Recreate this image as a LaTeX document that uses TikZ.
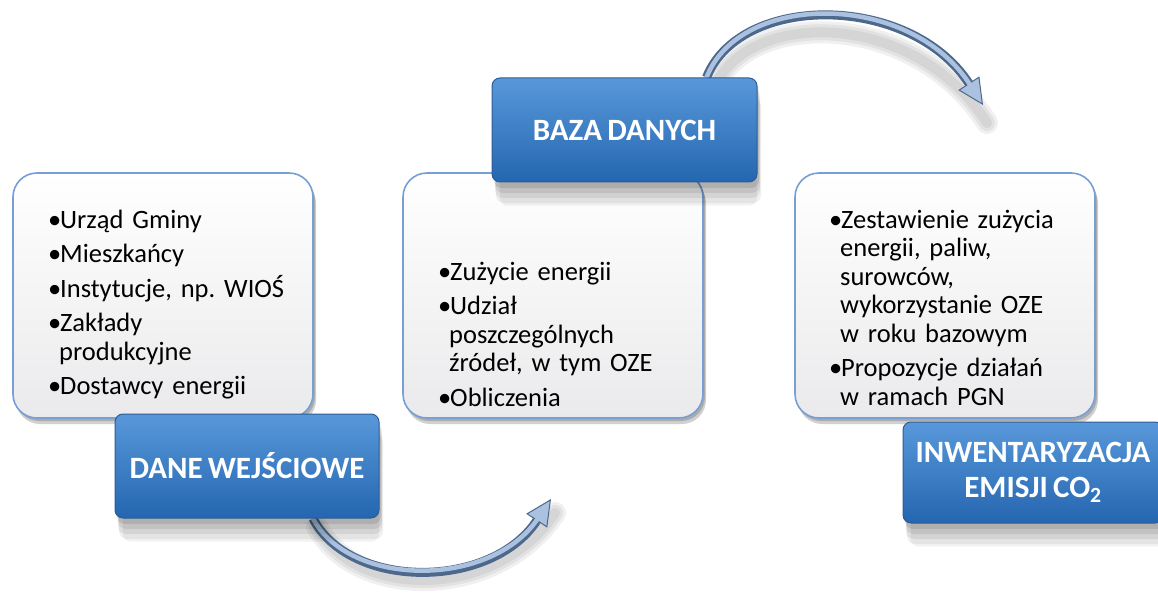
\documentclass[tikz,border=0pt]{standalone}
\usepackage{fontspec}
\setmainfont{Carlito}[WordSpace=0.75]
\usetikzlibrary{shadows,arrows.meta,calc}
\definecolor{bluetop}{RGB}{88,152,218}
\definecolor{bluebot}{RGB}{36,102,176}
\definecolor{blueedge}{RGB}{46,92,150}
\definecolor{wedge}{RGB}{118,160,212}
\definecolor{wbot}{RGB}{234,234,236}
\definecolor{arrdark}{RGB}{78,104,140}
\definecolor{arrlight}{RGB}{170,194,224}
\pgfdeclarelayer{bg}
\pgfsetlayers{bg,main}
\newcommand{\bl}{\makebox[12pt][l]{•}}
\newcommand{\ind}{\hspace*{11pt}}
\begin{document}
\begin{tikzpicture}[x=1pt,y=-1pt,
  wbox/.style={draw=wedge, line width=1.6pt, rounded corners=24pt,
    top color=white, bottom color=wbot, inner sep=0pt,
    minimum width=300pt, minimum height=245pt,
    general shadow={fill=black, opacity=0.18, shadow xshift=3pt, shadow yshift=-6pt},
    general shadow={fill=black, opacity=0.18, shadow xshift=2pt, shadow yshift=-3pt}},
  bbox/.style={draw=blueedge, line width=1pt, rounded corners=8pt,
    top color=bluetop, bottom color=bluebot, inner sep=0pt,
    text=white, font=\bfseries\fontsize{31}{35}\selectfont, align=center,
    general shadow={fill=black, opacity=0.05, shadow xshift=4pt, shadow yshift=-26pt, shadow scale=0.97},
    general shadow={fill=black, opacity=0.06, shadow xshift=4pt, shadow yshift=-21pt},
    general shadow={fill=black, opacity=0.07, shadow xshift=3pt, shadow yshift=-16pt},
    general shadow={fill=black, opacity=0.08, shadow xshift=3pt, shadow yshift=-11pt},
    general shadow={fill=black, opacity=0.10, shadow xshift=2pt, shadow yshift=-6pt}},
  txt/.style={anchor=base west, inner sep=0pt, text width=290pt, align=left,
    font=\frenchspacing\fontsize{26.5}{28.5}\selectfont, text=black},
  arrshadow/.style={draw=black, opacity=0.06, line width=#1, line cap=round},
  arrbody/.style={draw=arrdark, line width=9pt,
    -{Triangle[length=26pt,width=25pt,fill=arrlight,color=arrdark,line width=1pt]}},
  arrhi/.style={draw=arrlight, line width=4.5pt, shorten >=24pt}
]
\useasboundingbox (0,0) rectangle (1158,596);
\clip (0,0) rectangle (1158,596);

% white boxes and blue boxes
\node[wbox] (in1) at (163,295.5) {};
\node[bbox, minimum width=264pt, minimum height=104pt] (dane) at (247,466) {DANE WEJŚCIOWE};

\node[wbox] (in2) at (553,295.5) {};
\node[bbox, minimum width=265pt, minimum height=104pt] (baza) at (624.5,130) {BAZA DANYCH};

\node[wbox] (in3) at (945,295.5) {};
\node[bbox, minimum width=260pt, minimum height=101pt] (inw) at (1033,472.5) {INWENTARYZACJA\\EMISJI CO\textsubscript{2}};

% texts
\node[txt] (t1) at (48,228) {\bl Urząd Gminy\\[6pt]\bl Mieszkańcy\\[6pt]\bl Instytucje, np. WIOŚ\\[6pt]\bl Zakłady\\\ind produkcyjne\\[6pt]\bl Dostawcy energii};
\node[txt] (t2) at (438,280) {\bl Zużycie energii\\[6pt]\bl Udział\\\ind poszczególnych\\\ind źródeł, w tym OZE\\[6pt]\bl Obliczenia};
\node[txt] (t3) at (829,228) {\bl Zestawienie zużycia\\\ind energii, paliw,\\\ind surowców,\\\ind wykorzystanie OZE\\\ind w roku bazowym\\[6pt]\bl Propozycje działań\\\ind w ramach PGN};

% arrows
\coordinate (e1) at (551,499);
\coordinate (e2) at (983,105);
\begin{pgfonlayer}{bg}
  \foreach \w in {22pt,16pt,10pt}{
    \path[arrshadow=\w] ($(dane.south)+(70,8)$) .. controls (356,600) and (497,600) .. ($(e1)+(4,14)$);
    \path[arrshadow=\w] ($(baza.north)+(88,14)$) .. controls (744,8) and (914,8) .. ($(e2)+(4,18)$);
  }
  \draw[arrbody] ($(dane.south)+(66,0)$) .. controls (350,590) and (491,590) .. (e1);
  \draw[arrhi] ($(dane.south)+(66,0)$) .. controls (350,588) and (491,588) .. (e1);
  \draw[arrbody] ($(baza.north)+(82,0)$) .. controls (740,-7) and (910,-7) .. (e2);
  \draw[arrhi] ($(baza.north)+(82,0)$) .. controls (740,-9) and (910,-9) .. (e2);
\end{pgfonlayer}
\end{tikzpicture}
\end{document}
